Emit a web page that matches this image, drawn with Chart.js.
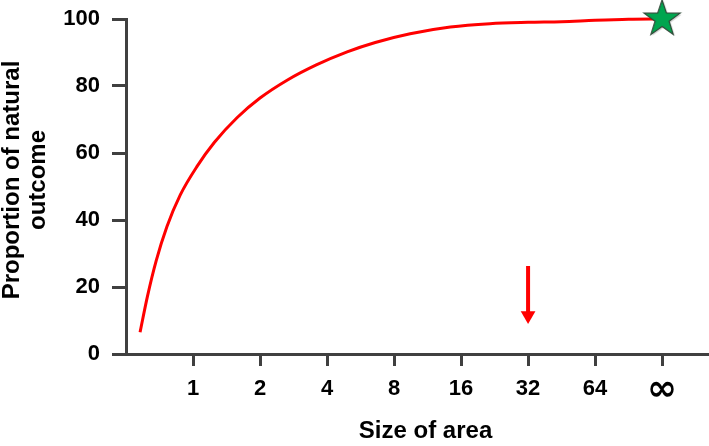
<!DOCTYPE html>
<html>
<head>
<meta charset="utf-8">
<script src="https://cdn.jsdelivr.net/npm/chart.js@4"></script>
<style>
  html, body { margin: 0; padding: 0; background: #fff; }
  #wrap { width: 709px; height: 446px; position: relative; }
</style>
</head>
<body>
<div id="wrap"><canvas id="chart"></canvas></div>
<script>
// x positions are equally spaced steps on a doubling scale; 8 is "infinity"
const sizeLabels = ['1', '2', '4', '8', '16', '32', '64', '∞'];
const tickPositions = [1, 2, 3, 4, 5, 6, 7, 8];
const yTicks = [0, 20, 40, 60, 80, 100];

// curve
const curveX = [0.21, 0.32, 0.45, 0.61, 0.81, 1.06, 1.32, 1.66, 2.0, 2.41, 2.84, 3.3, 3.72, 4.24, 4.84, 5.43, 6.0, 6.5, 7.0, 7.5, 8.0];
const curveY = [6.5, 17.2, 27.8, 38.0, 47.5, 56.0, 63.2, 70.6, 76.4, 81.8, 86.3, 90.2, 93.0, 95.6, 97.6, 98.6, 99.0, 99.2, 99.6, 99.9, 100];

// arrow under "32", star at "infinity"
const arrowX = [6, 6];
const arrowY = [26.3, 11.5];
const starX = [8];
const starY = [100];

const FONT = "'Liberation Sans', Arial, sans-serif";
const AXIS = '#404040';

function makeStar() {
  const c = document.createElement('canvas');
  c.width = 48; c.height = 48;
  const g = c.getContext('2d');
  const path = (cx, cy, R, r) => {
    g.beginPath();
    for (let i = 0; i < 10; i++) {
      const rad = i % 2 ? r : R;
      const a = -Math.PI / 2 + i * Math.PI / 5;
      const px = cx + Math.cos(a) * rad, py = cy + Math.sin(a) * rad;
      i ? g.lineTo(px, py) : g.moveTo(px, py);
    }
    g.closePath();
  };
  path(25.5, 25.5, 19, 7.4);
  g.fillStyle = 'rgba(0,0,0,0.15)';
  g.fill();
  path(24, 24, 19, 7.4);
  g.fillStyle = '#00a54f';
  g.fill();
  g.lineWidth = 1.2;
  g.strokeStyle = '#2f4a38';
  g.stroke();
  return c;
}

// axis titles drawn at their spot in the picture
const titles = {
  id: 'titles',
  afterDraw(chart) {
    const { ctx, scales: { x } } = chart;
    ctx.save();
    ctx.fillStyle = '#000';
    ctx.font = `bold 24px ${FONT}`;
    ctx.textAlign = 'center';
    ctx.textBaseline = 'alphabetic';
    const cx = (x.getPixelForValue(1) + x.getPixelForValue(8)) / 2 - 2;
    ctx.fillText('Size of area', cx, 438);
    ctx.translate(0, 180);
    ctx.rotate(-Math.PI / 2);
    ctx.textBaseline = 'middle';
    ctx.fillText('Proportion of natural', 0, 12);
    ctx.fillText('outcome', 0, 38);
    ctx.restore();
  }
};

new Chart(document.getElementById('chart'), {
  type: 'line',
  data: {
    datasets: [
      {
        data: starX.map((v, i) => ({ x: v, y: starY[i] })),
        showLine: false,
        pointStyle: makeStar(),
        pointRadius: 20,
        clip: false,
        order: 0
      },
      {
        data: arrowX.map((v, i) => ({ x: v, y: arrowY[i] })),
        borderColor: '#ff0000',
        borderWidth: 4,
        pointStyle: 'triangle',
        rotation: 180,
        pointRadius: [0, 8.5],
        pointBackgroundColor: '#ff0000',
        pointBorderWidth: 0,
        order: 1
      },
      {
        data: curveX.map((v, i) => ({ x: v, y: curveY[i] })),
        borderColor: '#ff0000',
        borderWidth: 3,
        pointRadius: 0,
        cubicInterpolationMode: 'monotone',
        clip: false,
        order: 2
      }
    ]
  },
  options: {
    responsive: true,
    maintainAspectRatio: false,
    animation: false,
    layout: { autoPadding: false, padding: { top: 19, right: 2, left: 0, bottom: 0 } },
    plugins: { legend: { display: false }, tooltip: { enabled: false } },
    scales: {
      x: {
        type: 'linear',
        min: 0,
        max: 8.67,
        afterBuildTicks: s => { s.ticks = tickPositions.map(v => ({ value: v })); },
        afterFit: s => { s.height = 92; s.paddingLeft = 0; s.paddingRight = 0; },
        grid: { drawOnChartArea: false, drawTicks: true, tickLength: 12, color: AXIS, lineWidth: 3 },
        border: { display: true, color: AXIS, width: 3 },
        ticks: {
          color: '#000',
          padding: 10,
          maxRotation: 0,
          autoSkip: false,
          font: c => (c.tick && c.tick.value === 8)
            ? { family: "'DejaVu Sans', sans-serif", size: 36, weight: 'bold', lineHeight: 0.8 }
            : { family: FONT, size: 22, weight: 'bold' },
          callback: v => sizeLabels[tickPositions.indexOf(v)] ?? ''
        }
      },
      y: {
        min: 0,
        max: 100,
        afterBuildTicks: s => { s.ticks = yTicks.map(v => ({ value: v })); },
        afterFit: s => { s.width = 126; s.paddingTop = 0; s.paddingBottom = 0; },
        grid: { drawOnChartArea: false, drawTicks: true, tickLength: 14, color: AXIS, lineWidth: 3 },
        border: { display: true, color: AXIS, width: 3 },
        ticks: {
          color: '#000',
          padding: 12,
          font: { family: FONT, size: 22, weight: 'bold' }
        }
      }
    }
  },
  plugins: [titles]
});
</script>
</body>
</html>
